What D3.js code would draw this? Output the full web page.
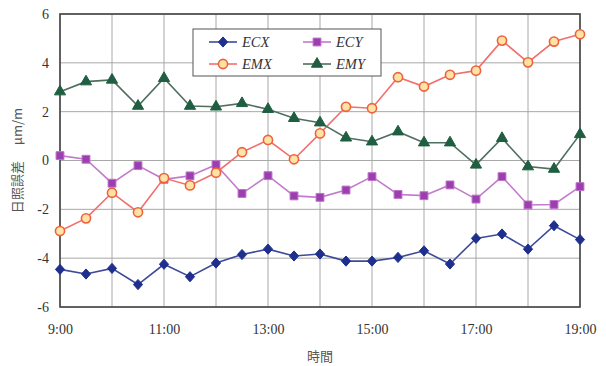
<!DOCTYPE html>
<html>
<head>
<meta charset="utf-8">
<script src="https://cdn.jsdelivr.net/npm/d3@7"></script>
<style>
  html, body { margin: 0; padding: 0; background: #fff; }
  svg { display: block; }
</style>
</head>
<body>
<svg id="chart" width="606" height="366"></svg>
<script>
// Half-hour sampling times, 9:00 to 19:00 (hours as decimals)
const times = d3.range(0, 21).map(i => 9 + i * 0.5);
const xTickHours = [9, 11, 13, 15, 17, 19];
const xGridHours = d3.range(9, 20);
const yTicks = [-6, -4, -2, 0, 2, 4, 6];

const seriesNames = ["ECX", "ECY", "EMX", "EMY"];
const ECX = [-4.46, -4.65, -4.42, -5.08, -4.25, -4.76, -4.2, -3.85, -3.63, -3.91, -3.83,
             -4.12, -4.12, -3.97, -3.7, -4.24, -3.19, -3.01, -3.63, -2.67, -3.24];
const ECY = [0.2, 0.05, -0.93, -0.21, -0.77, -0.63, -0.17, -1.35, -0.62, -1.45, -1.51,
             -1.21, -0.66, -1.39, -1.44, -1.0, -1.58, -0.66, -1.82, -1.8, -1.07];
const EMX = [-2.89, -2.37, -1.32, -2.12, -0.72, -1.02, -0.5, 0.34, 0.84, 0.05, 1.11,
             2.2, 2.14, 3.41, 3.03, 3.51, 3.68, 4.91, 4.02, 4.87, 5.17];
const EMY = [2.82, 3.23, 3.3, 2.23, 3.37, 2.23, 2.2, 2.34, 2.1, 1.73, 1.55,
             0.93, 0.77, 1.18, 0.73, 0.73, -0.18, 0.91, -0.25, -0.35, 1.07];

const seriesValues = { ECX, ECY, EMX, EMY };

// wide diamond marker
const wideDiamond = {
  draw(ctx, size) {
    const h = Math.sqrt(size) * 0.72, w = h * 0.9;
    ctx.moveTo(0, -h); ctx.lineTo(w, 0); ctx.lineTo(0, h); ctx.lineTo(-w, 0); ctx.closePath();
  }
};

const styles = {
  ECX: { line: "#3d4a98", fill: "#1f2f8e", stroke: "#1f2f8e", symbol: wideDiamond, size: 50, sw: 1 },
  ECY: { line: "#c27acb", fill: "#9c3fae", stroke: "#c070cc", symbol: d3.symbolSquare, size: 62, sw: 1 },
  EMX: { line: "#f0706e", fill: "#fde3a6", stroke: "#f0603a", symbol: d3.symbolCircle, size: 66, sw: 1.6 },
  EMY: { line: "#4f6e60", fill: "#1f5e40", stroke: "#1f5e40", symbol: d3.symbolTriangle, size: 54, sw: 1 }
};

const serif = "Liberation Serif, Times New Roman, serif";

const svg = d3.select("#chart");
const margin = { left: 60, top: 14, right: 26, bottom: 59 };
const W = 606, H = 366;

const x = d3.scaleLinear().domain([9, 19]).range([margin.left, W - margin.right]);
const y = d3.scaleLinear().domain([-6, 6]).range([H - margin.bottom, margin.top]);

// grid
const grid = svg.append("g");
grid.selectAll("line.v").data(xGridHours).join("line")
  .attr("x1", d => x(d)).attr("x2", d => x(d))
  .attr("y1", y(6)).attr("y2", y(-6))
  .attr("stroke", "#a8a8a8").attr("stroke-width", 1);
grid.selectAll("line.h").data(yTicks).join("line")
  .attr("x1", x(9)).attr("x2", x(19))
  .attr("y1", d => y(d)).attr("y2", d => y(d))
  .attr("stroke", "#a8a8a8").attr("stroke-width", 1);

// axes
const xAxis = d3.axisBottom(x).tickValues(xTickHours).tickSize(0).tickPadding(17)
  .tickFormat(d => d + ":00");
const yAxis = d3.axisLeft(y).tickValues(yTicks).tickSize(0).tickPadding(11)
  .tickFormat(d => d);

const gx = svg.append("g").attr("transform", `translate(0,${y(-6)})`).call(xAxis)
  .attr("font-family", serif).attr("font-size", 14);
const gy = svg.append("g").attr("transform", `translate(${x(9)},0)`).call(yAxis)
  .attr("font-family", serif).attr("font-size", 14);
[gx, gy].forEach(g => {
  g.select(".domain").remove();
  g.selectAll("text").attr("fill", "#333");
});

// plot frame
svg.append("rect")
  .attr("x", x(9)).attr("y", y(6))
  .attr("width", x(19) - x(9)).attr("height", y(-6) - y(6))
  .attr("fill", "none").attr("stroke", "#454545").attr("stroke-width", 1.6);

// axis titles
svg.append("text")
  .attr("transform", `translate(22,${(y(6) + y(-6)) / 2}) rotate(-90)`)
  .attr("text-anchor", "middle")
  .attr("font-family", "Noto Sans CJK JP")
  .attr("font-size", 13).attr("fill", "#555")
  .text("日照誤差　 μm/m");
svg.append("text")
  .attr("x", (x(9) + x(19)) / 2).attr("y", 361)
  .attr("text-anchor", "middle")
  .attr("font-family", "Noto Sans CJK JP")
  .attr("font-size", 13).attr("fill", "#555")
  .text("時間");

// series
const line = d3.line().x((d, i) => x(times[i])).y(d => y(d));
seriesNames.forEach(name => {
  const st = styles[name];
  const vals = seriesValues[name];
  const g = svg.append("g");
  g.append("path").datum(vals)
    .attr("d", line).attr("fill", "none")
    .attr("stroke", st.line).attr("stroke-width", 1.6);
  g.selectAll("path.m").data(vals).join("path")
    .attr("class", "m")
    .attr("transform", (d, i) => `translate(${x(times[i])},${y(d)})`)
    .attr("d", d3.symbol().type(st.symbol).size(st.size))
    .attr("fill", st.fill).attr("stroke", st.stroke).attr("stroke-width", st.sw);
});

// legend
const lg = svg.append("g").attr("transform", "translate(193,29)");
lg.append("rect").attr("width", 188).attr("height", 47)
  .attr("fill", "#fff").attr("stroke", "#555").attr("stroke-width", 1);
const legendPos = { ECX: [16, 13], ECY: [110, 13], EMX: [16, 35], EMY: [110, 35] };
seriesNames.forEach(name => {
  const st = styles[name];
  const [lx, ly] = legendPos[name];
  lg.append("line").attr("x1", lx).attr("x2", lx + 28).attr("y1", ly).attr("y2", ly)
    .attr("stroke", st.line).attr("stroke-width", 1.6);
  lg.append("path").attr("transform", `translate(${lx + 14},${ly})`)
    .attr("d", d3.symbol().type(st.symbol).size(st.size))
    .attr("fill", st.fill).attr("stroke", st.stroke).attr("stroke-width", st.sw);
  lg.append("text").attr("x", lx + 33).attr("y", ly + 5)
    .attr("font-family", serif)
    .attr("font-style", "italic").attr("font-size", 14.5)
    .attr("fill", "#333").text(name);
});
</script>
</body>
</html>
